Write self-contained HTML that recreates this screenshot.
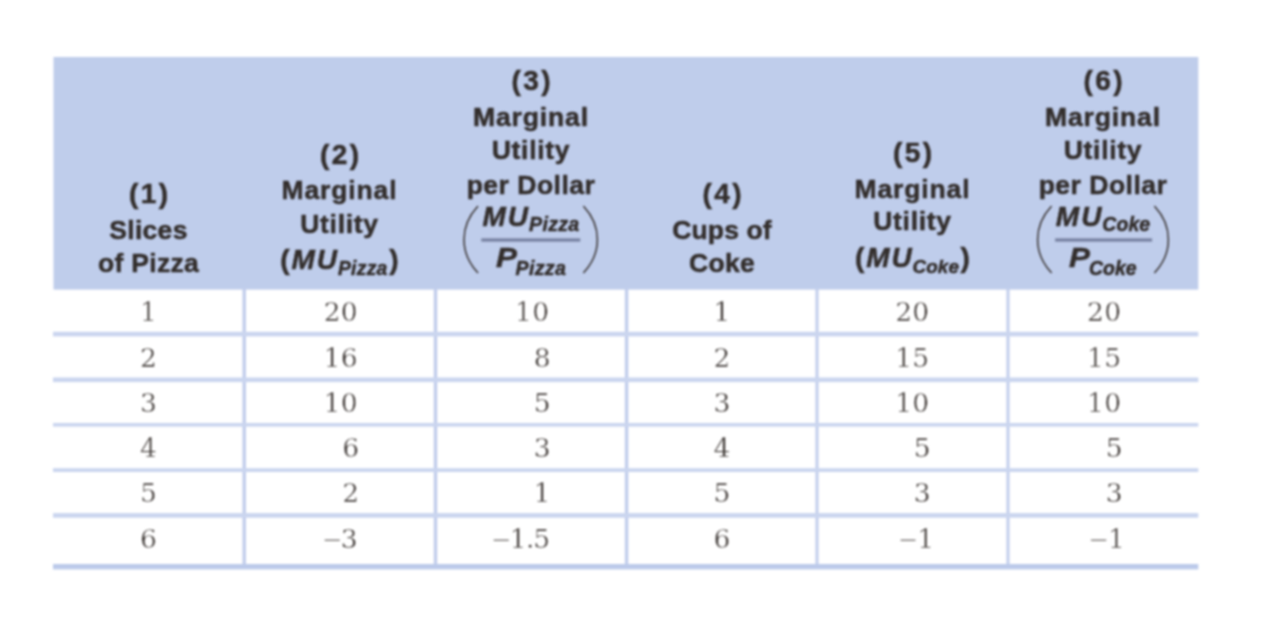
<!DOCTYPE html>
<html lang="en">
<head>
<meta charset="utf-8">
<title>Marginal utility per dollar: pizza and Coke</title>
<style>
html,body{margin:0;padding:0;background:#fff;}
body{width:1266px;height:638px;overflow:hidden;position:relative;
  font-family:"Liberation Sans",sans-serif;}
#wrap{position:absolute;left:0;top:0;width:1266px;height:638px;background:#fff;}
table{position:absolute;left:53px;top:58px;width:1145px;border-collapse:separate;border-spacing:0;
  table-layout:fixed;margin:0;padding:0;}
col.c1{width:191px}col.c2{width:191px}col.c3{width:192px}
col.c4{width:190px}col.c5{width:191px}col.c6{width:190px}
th,td{padding:0;margin:0;border:0;}
thead th{position:relative;height:231px;background:transparent;color:#322d2b;-webkit-text-stroke:0.5px #322d2b;
  font-weight:bold;font-size:26.5px;vertical-align:bottom;}
.l{filter:blur(0.85px);position:absolute;left:0;right:0;text-align:center;white-space:nowrap;
  height:34px;line-height:34px;letter-spacing:0.3px;}
.n0{font-size:28px;letter-spacing:2.5px;padding-left:2.5px;}
.it{font-style:italic;font-size:28px;letter-spacing:2px;}
.it.pw{display:inline-block;transform:scaleX(1.12);transform-origin:50% 50%;letter-spacing:0;margin:0 1.5px 0 1px;}
.sb{font-style:italic;font-size:19.3px;letter-spacing:0.3px;position:relative;top:6px;}
.sb.ck{font-size:18.8px;letter-spacing:0.1px;}
.sb.f{font-size:19.6px;top:5px;margin-left:-1px;}
.pw + .sb.f{margin-left:-1.5px;}
.sb.ck.f{font-size:19.4px;}
.lp,.rp{font-size:28px;}
.lp{margin-right:1.7px}.rp{margin-left:1.5px}
.lp + .it + .sb{margin-left:-1.2px}
tbody td{position:relative;height:45px;color:#3d3734;-webkit-text-stroke:0.4px #fff;
  font-family:"DejaVu Serif","Liberation Serif",serif;font-size:26.5px;letter-spacing:0.2px;line-height:32px;}
tbody tr.h46 td{height:46px}
tbody td .n{position:absolute;top:7.3px;white-space:nowrap;filter:blur(0.9px);}
tbody td .m{font-family:"Liberation Serif",serif;font-size:33px;letter-spacing:-0.7px;line-height:20px;}
tbody td .d{letter-spacing:-1.2px;margin-left:-1px;}
tbody td .n.x{margin-right:-1px;}
tbody td .n.s{margin-right:-1.5px;}
tbody td .n.y5{margin-right:-5px;}
tbody td .n.y6{margin-right:-3.8px;}
tbody td .n.y5 .m,tbody td .n.y6 .m{margin-right:0.8px;}
tbody tr.dn td .n{top:8.3px;}
tbody td .m{position:relative;top:3px;}
tbody td:nth-child(1) .n,tbody td:nth-child(4) .n{left:0;right:0;text-align:center;padding-left:0px;}
tbody td:nth-child(2) .n{right:77.1px}
tbody td:nth-child(3) .n{right:77.8px}
tbody td:nth-child(5) .n{right:78.6px}
tbody td:nth-child(6) .n{right:76.8px}
#grid{filter:blur(0.8px);}
#bg,#grid{position:absolute;left:0;top:0;width:1266px;height:638px;pointer-events:none;}
</style>
</head>
<body>
<div id="wrap">
<svg id="bg" width="1266" height="638" viewBox="0 0 1266 638">
  <defs>
    <filter id="soft" x="-2%" y="-2%" width="104%" height="104%"><feGaussianBlur stdDeviation="1.2"/></filter>
  </defs>
  <g filter="url(#soft)">
    <rect x="53.5" y="57" width="1144.8" height="232.6" fill="#bfcdeb"/>
    <g fill="#c1cdec">
      <rect x="242.5" y="288" width="3.4" height="278"/>
      <rect x="433.8" y="288" width="3.4" height="278"/>
      <rect x="624.9" y="288" width="3.4" height="278"/>
      <rect x="815.5" y="288" width="3.0" height="278"/>
      <rect x="1006.5" y="288" width="3.0" height="278"/>
    </g>
    <g fill="#cad5ef">
      <rect x="53" y="331.8" width="1145.3" height="4.6"/>
      <rect x="53" y="377.5" width="1145.3" height="4.6"/>
      <rect x="53" y="423.0" width="1145.3" height="3.6"/>
      <rect x="53" y="468.2" width="1145.3" height="3.8"/>
      <rect x="53" y="513.1" width="1145.3" height="4.6"/>
    </g>
    <rect x="53" y="564" width="1145.3" height="5.4" fill="#bccaea"/>
  </g>
</svg>
<table>
<colgroup><col class="c1"><col class="c2"><col class="c3"><col class="c4"><col class="c5"><col class="c6"></colgroup>
<thead>
<tr>
<th>
  <div class="l n0" style="top:118.5px">(1)</div>
  <div class="l" style="top:155px">Slices</div>
  <div class="l" style="top:188px">of Pizza</div>
</th>
<th>
  <div class="l n0" style="top:79.5px">(2)</div>
  <div class="l" style="top:115px;letter-spacing:0.85px">Marginal</div>
  <div class="l" style="top:149px;letter-spacing:0.7px">Utility</div>
  <div class="l" style="top:185px"><span class="lp">(</span><span class="it">MU</span><span class="sb">Pizza</span><span class="rp">)</span></div>
</th>
<th>
  <div class="l n0" style="top:5.5px">(3)</div>
  <div class="l" style="top:42px;letter-spacing:0.85px">Marginal</div>
  <div class="l" style="top:75px;letter-spacing:0.7px">Utility</div>
  <div class="l" style="top:110px;letter-spacing:0.5px">per Dollar</div>
  <div class="l" style="top:142px"><span class="it">MU</span><span class="sb f">Pizza</span></div>
  <div class="l" style="top:183px"><span class="it pw">P</span><span class="sb f" style="top:8px">Pizza</span></div>
</th>
<th>
  <div class="l n0" style="top:118.5px">(4)</div>
  <div class="l" style="top:155px;letter-spacing:0.1px">Cups of</div>
  <div class="l" style="top:188px">Coke</div>
</th>
<th>
  <div class="l n0" style="top:77.5px">(5)</div>
  <div class="l" style="top:114px;letter-spacing:0.85px">Marginal</div>
  <div class="l" style="top:146px;letter-spacing:0.7px">Utility</div>
  <div class="l" style="top:183px"><span class="lp">(</span><span class="it">MU</span><span class="sb ck">Coke</span><span class="rp">)</span></div>
</th>
<th>
  <div class="l n0" style="top:5.5px">(6)</div>
  <div class="l" style="top:42px;letter-spacing:0.85px">Marginal</div>
  <div class="l" style="top:75px;letter-spacing:0.7px">Utility</div>
  <div class="l" style="top:110px;letter-spacing:0.5px">per Dollar</div>
  <div class="l" style="top:142px"><span class="it">MU</span><span class="sb ck f">Coke</span></div>
  <div class="l" style="top:183px"><span class="it pw">P</span><span class="sb ck f" style="top:8px">Coke</span></div>
</th>
</tr>
</thead>
<tbody>
<tr><td><span class="n">1</span></td><td><span class="n">20</span></td><td><span class="n">10</span></td><td><span class="n">1</span></td><td><span class="n">20</span></td><td><span class="n">20</span></td></tr>
<tr class="dn"><td><span class="n">2</span></td><td><span class="n">16</span></td><td><span class="n s">8</span></td><td><span class="n">2</span></td><td><span class="n">15</span></td><td><span class="n">15</span></td></tr>
<tr class="h46 dn"><td><span class="n">3</span></td><td><span class="n">10</span></td><td><span class="n s">5</span></td><td><span class="n">3</span></td><td><span class="n">10</span></td><td><span class="n">10</span></td></tr>
<tr><td><span class="n">4</span></td><td><span class="n s">6</span></td><td><span class="n s">3</span></td><td><span class="n">4</span></td><td><span class="n s">5</span></td><td><span class="n s">5</span></td></tr>
<tr><td><span class="n">5</span></td><td><span class="n s">2</span></td><td><span class="n s">1</span></td><td><span class="n">5</span></td><td><span class="n s">3</span></td><td><span class="n s">3</span></td></tr>
<tr class="dn"><td><span class="n">6</span></td><td><span class="n"><span class="m">&minus;</span>3</span></td><td><span class="n x"><span class="m">&minus;</span>1<span class="d">.</span>5</span></td><td><span class="n">6</span></td><td><span class="n y5"><span class="m">&minus;</span>1</span></td><td><span class="n y6"><span class="m">&minus;</span>1</span></td></tr>
</tbody>
</table>
<svg id="grid" width="1266" height="638" viewBox="0 0 1266 638">
  <!-- fraction bars -->
  <g fill="#76809f">
    <rect x="481.3" y="238.4" width="99" height="3.2"/>
    <rect x="1055.1" y="238.4" width="97" height="3.2"/>
  </g>
  <!-- tall parentheses -->
  <g fill="none" stroke="#3a3432" stroke-width="1.5" stroke-linecap="round">
    <path d="M477.6 206.5 C459.5 226 459.5 253 477.6 272.5"/>
    <path d="M583.8 206.5 C601.9 226 601.9 253 583.8 272.5"/>
    <path d="M1051.2 206.5 C1033.1 226 1033.1 253 1051.2 272.5"/>
    <path d="M1154.8 206.5 C1172.9 226 1172.9 253 1154.8 272.5"/>
  </g>
</svg>
</div>
</body>
</html>
